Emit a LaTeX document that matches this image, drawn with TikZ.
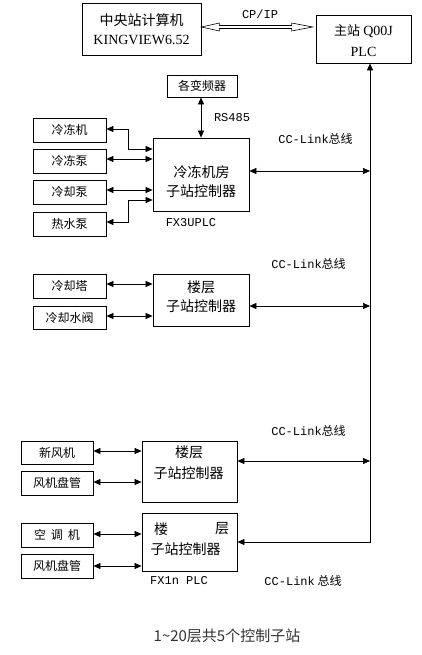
\documentclass[tikz,border=0pt]{standalone}
\usepackage{fontspec}
\setmainfont{Noto Sans CJK SC}
\newfontfamily\monof{Liberation Mono}
\newfontfamily\seriff{Liberation Serif}
\usetikzlibrary{arrows.meta,calc}
\begin{document}
\begin{tikzpicture}[x=1pt,y=-1pt,
  boxx/.style={draw, line width=0.8pt, inner sep=0pt, align=center},
  smallbox/.style={boxx, minimum width=73pt, minimum height=24pt, font=\fontsize{12}{12}\selectfont},
  ctrl/.style={boxx, minimum width=96pt},
  txt/.style={inner sep=0pt, font=\fontsize{14}{14}\selectfont},
  lbl/.style={inner sep=0pt, font=\fontsize{12}{12}\selectfont},
  both/.style={line width=0.7pt, {Triangle[length=7pt,width=6pt]}-{Triangle[length=7pt,width=6pt]}}
]
\useasboundingbox[fill=white] (0,0) rectangle (422,655);

% top boxes
\node[boxx, minimum width=119pt, minimum height=52pt] (pc) at (141.5,29) {};
\node[txt] (pct1) at (141.5,20) {中央站计算机};
\node[txt, font=\seriff\fontsize{14}{14}\selectfont] (pct2) at (141.5,40) {KINGVIEW6.52};

\node[boxx, minimum width=95pt, minimum height=48pt] (ms) at (363.5,39) {};
\node[txt] (mst1) at (363.5,31) {{\fontsize{13}{13}\selectfont 主站} {\seriff Q00J}};
\node[txt, font=\seriff\fontsize{14}{14}\selectfont] (mst2) at (363.5,52) {PLC};

% hollow double arrow
\coordinate (hl) at (pc.east |- 0,27);
\coordinate (hr) at ([xshift=-3pt]ms.west |- 0,27);
\draw[line width=0.6pt] (hl) -- ++(18,-4) -- ++(0,2.5) -- ($(hr)+(-21,-1.5)$) -- ++(0,-2.5) -- (hr)
  -- ++(-21,4) -- ++(0,-2.5) -- ($(hl)+(18,1.5)$) -- ++(0,2.5) -- cycle;
\node[lbl, font=\monof\fontsize{12}{12}\selectfont] (cpip) at (260,14) {CP/IP};

% vfd
\node[boxx, minimum width=70pt, minimum height=22pt, font=\fontsize{12}{12}\selectfont] (vfd) at (202,86) {各变频器};
\node[lbl, font=\monof\fontsize{12}{12}\selectfont] (rs) at (232,118) {RS485};

% controller 1
\node[ctrl, minimum height=73pt] (c1) at (201,174.5) {};
\node[txt] (c1t1) at (201.5,172) {冷冻机房};
\node[txt] (c1t2) at (201,191) {子站控制器};
\node[lbl, font=\monof\fontsize{12}{12}\selectfont] (fx3) at (191,223) {FX3UPLC};
\draw[both] (vfd.south -| 201,0) -- (c1.north -| 201,0);

\node[smallbox] (a1) at (69.5,130) {冷冻机};
\node[smallbox] (a2) at (69.5,161) {冷冻泵};
\node[smallbox] (a3) at (69.5,192) {冷却泵};
\node[smallbox] (a4) at (69.5,224) {热水泵};
\coordinate (k1) at (128,129);
\coordinate (k4) at (128,222);
\draw[both] (a1.east |- k1) -- (k1) |- (c1.west |- 0,149);
\draw[both] (a2.east |- 0,159) -- (c1.west |- 0,159);
\draw[both] (a3.east |- 0,190) -- (c1.west |- 0,190);
\draw[both] (a4.east |- k4) -- (k4) |- (c1.west |- 0,200);

% controller 2
\node[ctrl, minimum height=52pt] (c2) at (201,300) {};
\node[txt] (c2t1) at (201,287) {楼层};
\node[txt] (c2t2) at (201,306) {子站控制器};
\node[smallbox] (b1) at (69.5,286) {冷却塔};
\node[smallbox, minimum height=23pt] (b2) at (69.5,317.5) {冷却水阀};
\draw[both] (b1.east |- 0,284) -- (c2.west |- 0,284);
\draw[both] (b2.east |- 0,316) -- (c2.west |- 0,316);

% controller 3
\node[ctrl, minimum width=95pt, minimum height=61pt] (c3) at (189.5,471.5) {};
\node[txt] (c3t1) at (189,452) {楼层};
\node[txt] (c3t2) at (188.5,473) {子站控制器};
\node[smallbox, minimum width=72pt, minimum height=23pt] (d1) at (57,452.5) {新风机};
\node[smallbox, minimum width=72pt] (d2) at (57,483) {风机盘管};
\draw[both] (d1.east |- 0,451) -- (c3.west |- 0,451);
\draw[both] (d2.east |- 0,482) -- (c3.west |- 0,482);

% controller 4
\node[ctrl, minimum width=95pt, minimum height=58pt] (c4) at (189.5,542) {};
\node[txt] (c4t1) at (161,529) {楼};
\node[txt] (c4t1b) at (222,529) {层};
\node[txt] (c4t2) at (185.5,549) {子站控制器};
\node[lbl, font=\monof\fontsize{12}{12}\selectfont] (fx1) at (179,581) {FX1n PLC};
\node[smallbox, minimum width=72pt] (e1) at (57,535) {空\hspace{5pt}调\hspace{5pt}机};
\node[smallbox, minimum width=72pt] (e2) at (57,566) {风机盘管};
\draw[both] (e1.east |- 0,534) -- (c4.west |- 0,534);
\draw[both] (e2.east |- 0,566) -- (c4.west |- 0,566);

% bus
\coordinate (busx) at (370,0);
\coordinate (bus1) at (370,171);
\coordinate (bus2) at (370,306);
\coordinate (bus3) at (370,461);
\draw[both] (c4.east) -| (ms.south -| busx);
\draw[both] (c1.east |- bus1) -- (bus1);
\draw[both] (c2.east |- bus2) -- (bus2);
\draw[both] (c3.east |- bus3) -- (bus3);

\node[lbl] (cc1) at (315.5,139) {{\monof CC-Link}总线};
\node[lbl] (cc2) at (308.5,264) {{\monof CC-Link}总线};
\node[lbl] (cc3) at (308.5,431) {{\monof CC-Link}总线};
\node[lbl] (cc4) at (303,581) {{\monof CC-Link} 总线};

\node[inner sep=0pt, text=black!80, font=\fontsize{15}{15}\selectfont] (cap) at (227,636) {1\textasciitilde 20层共5个控制子站};
\end{tikzpicture}
\end{document}
